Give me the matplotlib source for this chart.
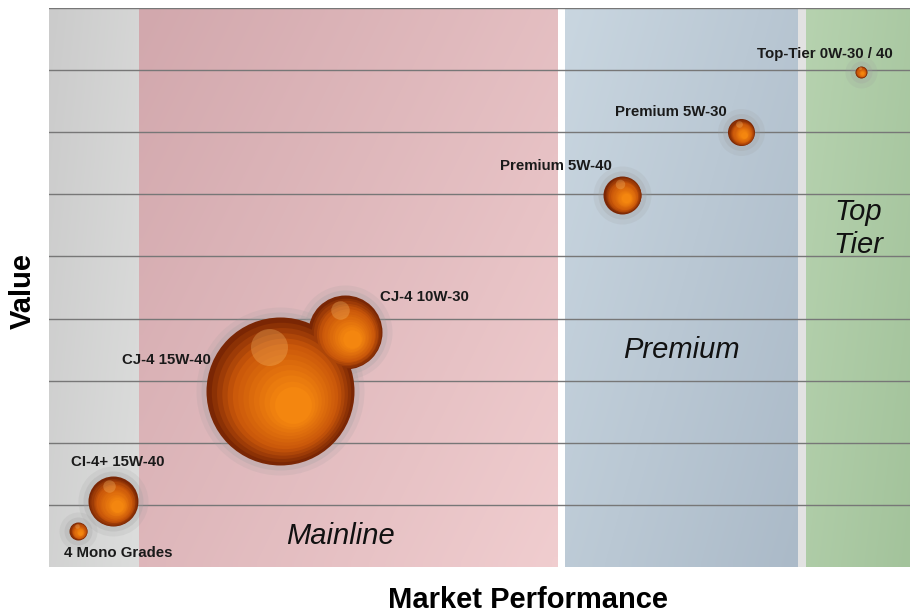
import numpy as np
import matplotlib.pyplot as plt
from matplotlib.colors import LinearSegmentedColormap, to_rgb
from matplotlib.transforms import offset_copy

# dados das bolhas (x = desempenho, y = valor, r = raio em px)
nomes = ["4 Mono Grades", "CI-4+ 15W-40", "CJ-4 15W-40", "CJ-4 10W-30",
         "Premium 5W-40", "Premium 5W-30", "Top-Tier 0W-30 / 40"]
desempenho = [3.4, 7.4, 26.8, 34.4, 66.6, 80.4, 94.3]
valor = [0.58, 1.06, 2.83, 3.78, 5.99, 7.0, 7.97]
raio = [9, 25, 74, 37, 19, 13.5, 6]

# posicao dos rotulos das bolhas
rot_x = [8.0, 8.0, 13.6, 43.6, 58.9, 72.2, 90.1]
rot_y = [0.22, 1.69, 3.33, 4.35, 6.46, 7.33, 8.26]

# faixas de fundo
faixas = ["", "Mainline", "Premium", "Top\nTier"]
faixa_ini = [0, 10.45, 59.9, 87.9]
faixa_fim = [10.45, 59.1, 87.0, 100]
faixa_cores = [("#cbcbcb", "#dcdddc"), ("#d2a8ad", "#f0cdcf"),
               ("#c9d6e0", "#abbac8"), ("#b6d2af", "#a3c39b")]
faixa_txt_x = [0, 33.9, 73.4, 94.0]
faixa_txt_y = [0, 0.5, 3.49, 5.45]

fig = plt.figure(figsize=(9.1, 6.14), dpi=100)
ax = fig.add_axes([49/910, 47/614, 861/910, 559/614])
ax.set_facecolor("white")

# fundo com gradiente (escuro em cima a esquerda)
gx, gy = np.meshgrid(np.linspace(0, 1, 60), np.linspace(0, 1, 60))
grad = 0.6 * gx + 0.4 * (1 - gy)
for i in range(len(faixas)):
    c0, c1 = faixa_cores[i]
    cm = LinearSegmentedColormap.from_list("f%d" % i, [c0, c1])
    ax.imshow(grad, cmap=cm, extent=[faixa_ini[i], faixa_fim[i], 0, 9],
              origin="lower", aspect="auto", zorder=0, interpolation="bilinear")
# faixa entre premium e top tier
ax.axvspan(87.0, 87.9, color="#e2e2e2", zorder=0.5, lw=0)

for yy in range(1, 10):
    ax.axhline(yy, color="#777777", lw=1.0, zorder=1)

for i in range(1, len(faixas)):
    ax.text(faixa_txt_x[i], faixa_txt_y[i], faixas[i], fontsize=21,
            style="italic", ha="center", va="center", color="#111111",
            family="Liberation Sans", linespacing=1.25, zorder=2)

# bolhas
def s_de(r):
    return (2 * r * 0.72) ** 2

borda = np.array(to_rgb("#7a2604"))
meio = np.array(to_rgb("#c9560a"))
centro = np.array(to_rgb("#f4860f"))
n_cam = 14
for i in range(len(nomes)):
    x, y, r = desempenho[i], valor[i], raio[i]
    # brilho cinza ao redor
    ax.scatter(x, y, s=s_de(r + 10), color="#9a9a9a", alpha=0.15, lw=0, zorder=3)
    ax.scatter(x, y, s=s_de(r + 5), color="#a0a0a0", alpha=0.25, lw=0, zorder=3)
    # gradiente radial
    for k in range(n_cam):
        t = k / (n_cam - 1)
        f = 1 - 0.75 * t
        if t < 0.35:
            c = borda + (meio - borda) * (t / 0.35)
        else:
            c = meio + (centro - meio) * ((t - 0.35) / 0.65)
        d = 0.18 * t * r * 0.72
        tr = offset_copy(ax.transData, fig=fig, x=d, y=-d, units="points")
        ax.scatter(x, y, s=s_de(r * f), color=c, lw=0, zorder=4 + k * 0.01, transform=tr)
    # reflexo em cima
    tr = offset_copy(ax.transData, fig=fig, x=-0.15 * r * 0.72, y=0.6 * r * 0.72, units="points")
    ax.scatter(x, y, s=s_de(r * 0.25), color="#f8c070", lw=0, zorder=5, alpha=0.3, transform=tr)

    ax.text(rot_x[i], rot_y[i], nomes[i], fontsize=10.8, fontweight="bold",
            ha="center", va="center", color="#1a1a1a",
            family="Liberation Sans", zorder=9)

ax.set_xlim(0, 100)
ax.set_ylim(0, 9)
ax.set_xticks([])
ax.set_yticks([])
for sp in ax.spines.values():
    sp.set_visible(False)

fig.text(23/910, 1 - 291/614, "Value", rotation=90, fontsize=21,
         fontweight="bold", ha="center", va="center", family="Liberation Sans")
fig.text(528/910, 1 - 600/614, "Market Performance", fontsize=21,
         fontweight="bold", ha="center", va="center", family="Liberation Sans")

fig.savefig("out.png", dpi=100)
